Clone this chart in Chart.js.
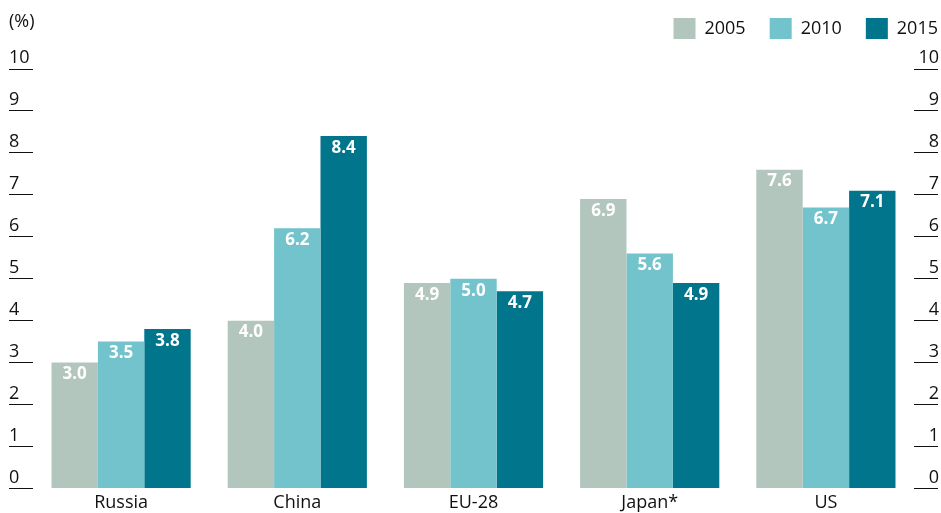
<!DOCTYPE html>
<html lang="en">
<head>
    <meta charset="UTF-8">
    <title>Bar chart - 2005 / 2010 / 2015</title>
    <script src="https://cdn.jsdelivr.net/npm/chart.js"></script>
    <style>
        html, body { margin: 0; padding: 0; background: #fff; }
        #wrap { width: 941px; height: 513px; }
    </style>
</head>
<body>
    <div id="wrap"><canvas id="myBarChart"></canvas></div>

    <script>
        // Data
        const categories = ['Russia', 'China', 'EU-28', 'Japan*', 'US'];
        const years = ['2005', '2010', '2015'];
        const values2005 = [3.0, 4.0, 4.9, 6.9, 7.6];
        const values2010 = [3.5, 6.2, 5.0, 5.6, 6.7];
        const values2015 = [3.8, 8.4, 4.7, 4.9, 7.1];
        const colors = ['#b2c6bd', '#72c3cb', '#00758c'];

        const textColor = '#111111';
        const fontFamily = '"Open Sans", sans-serif';

        // White value labels inside the top of each bar
        const valueLabels = {
            id: 'valueLabels',
            afterDatasetsDraw(chart) {
                const ctx = chart.ctx;
                ctx.save();
                ctx.font = 'bold 17px ' + fontFamily;
                ctx.fillStyle = '#ffffff';
                ctx.textAlign = 'center';
                ctx.textBaseline = 'middle';
                chart.data.datasets.forEach((ds, i) => {
                    chart.getDatasetMeta(i).data.forEach((bar, j) => {
                        ctx.fillText(ds.data[j].toFixed(1), bar.x, bar.y + 12);
                    });
                });
                ctx.restore();
            }
        };

        // "(%)" unit above the left axis, and legend nudged into the top-right corner
        const unitAndLegend = {
            id: 'unitAndLegend',
            afterLayout(chart) {
                const lg = chart.legend;
                lg.left += 23; lg.right += 23;
                lg.top -= 20; lg.bottom -= 20;
            },
            afterDraw(chart) {
                const y = chart.scales.y;
                const ctx = chart.ctx;
                ctx.save();
                ctx.font = '18px ' + fontFamily;
                ctx.fillStyle = textColor;
                ctx.textAlign = 'left';
                ctx.textBaseline = 'middle';
                ctx.fillText('(%)', y.left, y.top - 47);
                ctx.restore();
            }
        };

        const tickAxis = (position) => ({
            type: 'linear',
            position: position,
            min: 0,
            max: 10,
            border: { display: false },
            grid: {
                drawOnChartArea: false,
                drawTicks: true,
                tickLength: 24,
                color: textColor,
                lineWidth: 1
            },
            ticks: {
                stepSize: 1,
                crossAlign: 'far',
                labelOffset: -11,
                padding: 0,
                color: textColor,
                font: { size: 18, family: fontFamily }
            },
            afterFit(scale) { scale.width = position === 'left' ? 24 : 25; }
        });

        const datasetValues = [values2005, values2010, values2015];

        new Chart(document.getElementById('myBarChart').getContext('2d'), {
            type: 'bar',
            data: {
                labels: categories,
                datasets: years.map((yr, i) => ({
                    label: yr,
                    data: datasetValues[i],
                    backgroundColor: colors[i],
                    borderWidth: 0,
                    barPercentage: 1.0,
                    categoryPercentage: 0.79,
                    yAxisID: 'y'
                }))
            },
            options: {
                responsive: true,
                maintainAspectRatio: false,
                animation: false,
                layout: { padding: { left: 9, right: 2, top: 14, bottom: -5 } },
                plugins: {
                    legend: {
                        position: 'top',
                        align: 'end',
                        labels: {
                            boxWidth: 22,
                            boxHeight: 21,
                            padding: 24,
                            color: textColor,
                            font: { size: 18, family: fontFamily }
                        }
                    },
                    tooltip: { enabled: false }
                },
                scales: {
                    x: {
                        border: { display: false },
                        grid: { display: false, drawTicks: false },
                        ticks: {
                            padding: 4,
                            color: textColor,
                            font: { size: 18, family: fontFamily }
                        }
                    },
                    y: tickAxis('left'),
                    y2: tickAxis('right')
                }
            },
            plugins: [valueLabels, unitAndLegend]
        });
    </script>
</body>
</html>
